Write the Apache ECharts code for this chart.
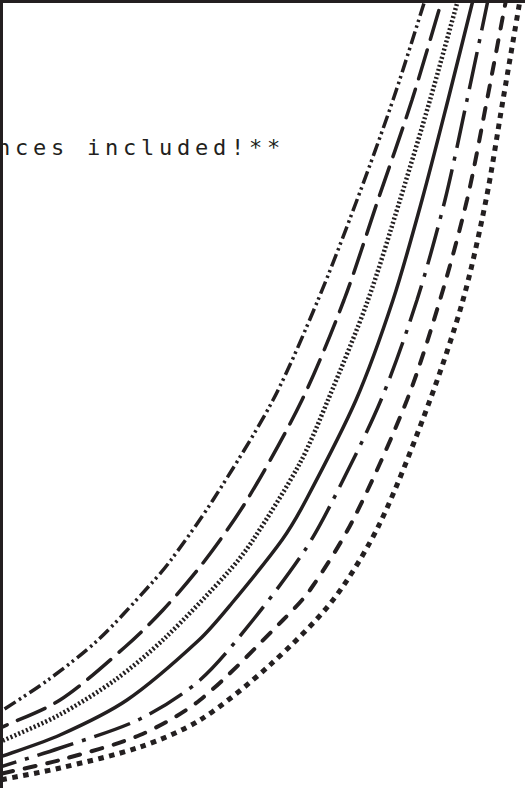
<!DOCTYPE html>
<html>
<head>
<meta charset="utf-8">
<script src="https://cdn.jsdelivr.net/npm/echarts@6/dist/echarts.min.js"></script>
<style>
  html, body { margin: 0; padding: 0; background: #ffffff; }
  #main { width: 525px; height: 788px; }
  #main text { letter-spacing: 4.75px; }
</style>
</head>
<body>
<div id="main"></div>
<script>
// Visible window of the chart (axis units)
const xRange = [0, 525];
const yRange = [0, 788];

// Note text (partly cut by the frame)
const noteText = 'nces included!**';

const dashDotDot = [[-20,725],[0,712],[48,680],[98,640],[150,585],[171,560],[213,500],[273,400],[318,300],[357,200],[393,100],[425,0],[431,-20]];
const longDash   = [[-20,737],[0,728],[60,700],[125,647],[163,610],[203,563],[247,500],[302,400],[344,300],[378,200],[412,100],[442,0],[448,-20]];
const dotted     = [[-20,751],[0,742],[59,715],[115,680],[165,638],[230,570],[253,540],[300,463],[328,400],[368,300],[400,200],[430,100],[458,0],[464,-20]];
const solid      = [[-20,764],[0,757],[60,735],[127,700],[199,640],[232,603],[282,540],[306,500],[356,400],[393,300],[422,200],[448,100],[473,0],[478,-20]];
const dashDot    = [[-20,773],[0,767],[60,748],[140,719],[200,680],[253,620],[305,550],[333,500],[381,400],[417,300],[445,200],[467,100],[488,0],[492,-20]];
const dashed     = [[-20,779],[0,774],[60,760],[140,735],[200,700],[283,620],[310,590],[353,520],[407,400],[440,300],[467,200],[487,100],[506,0],[510,-20]];
const squareDots = [[-20,784],[0,780],[60,768],[140,747],[200,720],[270,665],[333,600],[380,523],[430,400],[463,300],[486,200],[503,100],[520,0],[523,-20]];

const ink = '#231f20';

function curve(data, width, type, cap) {
  return {
    type: 'line',
    data: data,
    showSymbol: false,
    symbol: 'none',
    smooth: 0.3,
    clip: true,
    silent: true,
    lineStyle: { color: ink, width: width, type: type, cap: cap }
  };
}

const chart = echarts.init(document.getElementById('main'), null, { renderer: 'svg' });
chart.setOption({
  animation: false,
  backgroundColor: '#ffffff',
  grid: { left: 0, right: 0, top: 0, bottom: 0, containLabel: false },
  xAxis: {
    type: 'value', min: xRange[0], max: xRange[1], position: 'top',
    axisLine: { show: true, onZero: false, lineStyle: { color: ink, width: 5 } },
    axisTick: { show: false }, axisLabel: { show: false }, splitLine: { show: false },
    z: 10
  },
  yAxis: {
    type: 'value', min: yRange[0], max: yRange[1], inverse: true,
    axisLine: { show: true, onZero: false, lineStyle: { color: ink, width: 6 } },
    axisTick: { show: false }, axisLabel: { show: false }, splitLine: { show: false },
    z: 10
  },
  graphic: [{
    type: 'text', left: -3, top: 136, z: 0,
    style: { text: noteText, fill: ink, font: '22px "DejaVu Sans Mono"' }
  }],
  series: [
    curve(dashDotDot, 3.5, [13, 4, 2.5, 3.5, 2.5, 4], 'butt'),
    curve(longDash, 3.5, [30, 11], 'round'),
    curve(dotted, 4.5, [2, 2.2], 'butt'),
    curve(solid, 3.5, 'solid', 'butt'),
    curve(dashDot, 3.5, [38, 9, 4, 9], 'butt'),
    curve(dashed, 4, [11, 12], 'round'),
    curve(squareDots, 5, [5.5, 5.5], 'butt')
  ]
});
</script>
</body>
</html>
